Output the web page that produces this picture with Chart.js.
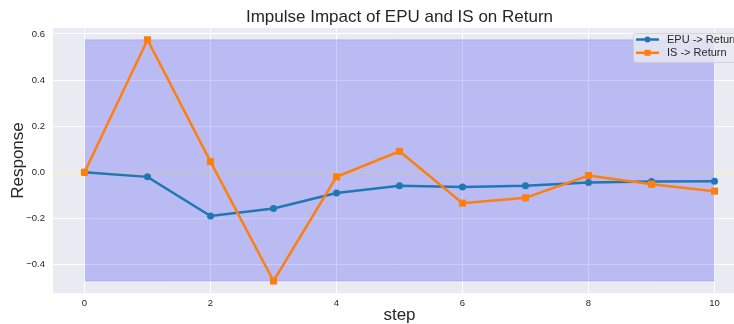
<!DOCTYPE html>
<html>
<head>
<meta charset="utf-8">
<script src="https://cdn.jsdelivr.net/npm/chart.js@4"></script>
<style>
  html, body { margin: 0; padding: 0; background: #fff; overflow: hidden; width: 734px; height: 324px; }
  #wrap { width: 796px; height: 324px; }
</style>
</head>
<body>
<div id="wrap"><canvas id="chart" width="796" height="324"></canvas></div>
<script>
// Impulse responses of Return to EPU and IS shocks.
const steps = [0, 1, 2, 3, 4, 5, 6, 7, 8, 9, 10];
const epuReturn = [0.0, -0.02, -0.19, -0.157, -0.09, -0.059, -0.064, -0.059, -0.045, -0.04, -0.039];
const isReturn = [0.0, 0.575, 0.046, -0.472, -0.02, 0.091, -0.134, -0.111, -0.014, -0.052, -0.082];
const xTicks = [0, 2, 4, 6, 8, 10];
const yTicks = [-0.4, -0.2, 0.0, 0.2, 0.4, 0.6];
const seriesNames = ["EPU -> Return", "IS -> Return"];

const FONT = "'Liberation Sans', Arial, sans-serif";
const $ = (id) => document.getElementById(id);

const bandTop = Math.max(...isReturn);
const bandBottom = Math.min(...isReturn);
const pts = (ys) => steps.map((s, i) => ({ x: s, y: ys[i] }));

const plotBg = {
  id: "plotBg",
  beforeDraw(c) {
    const a = c.chartArea, ctx = c.ctx;
    ctx.save();
    ctx.fillStyle = "#eaeaf2";
    ctx.fillRect(a.left, a.top, a.right - a.left, a.bottom - a.top);
    ctx.restore();
  },
};

const zeroLine = {
  id: "zeroLine",
  beforeDatasetsDraw(c) {
    const a = c.chartArea, ctx = c.ctx;
    const y = Math.round(c.scales.y.getPixelForValue(0)) + 0.5;
    ctx.save();
    ctx.strokeStyle = "rgba(255,240,120,0.7)";
    ctx.lineWidth = 1;
    ctx.beginPath();
    ctx.moveTo(a.left, y);
    ctx.lineTo(a.right, y);
    ctx.stroke();
    ctx.restore();
  },
};

const titles = {
  id: "titles",
  afterDraw(c) {
    const ctx = c.ctx, a = c.chartArea;
    ctx.save();
    ctx.fillStyle = "#262626";
    ctx.textAlign = "center";
    ctx.textBaseline = "middle";
    ctx.font = "17px " + FONT;
    ctx.fillText("Impulse Impact of EPU and IS on Return", (a.left + a.right) / 2, 17);
    ctx.restore();
  },
};

const legendBox = {
  id: "legendBox",
  afterDraw(c) {
    const ctx = c.ctx;
    const x = 633, y = 33, w = 120, h = 29;
    ctx.save();
    ctx.fillStyle = "rgba(234,234,242,0.8)";
    ctx.strokeStyle = "rgba(204,204,204,0.8)";
    ctx.lineWidth = 1;
    ctx.beginPath();
    ctx.roundRect(x + 0.5, y + 0.5, w, h, 2);
    ctx.fill();
    ctx.stroke();
    const colors = ["#1f77b4", "#ff7f0e"];
    seriesNames.forEach((name, i) => {
      const ly = y + 6.5 + i * 13.3;
      ctx.strokeStyle = colors[i];
      ctx.fillStyle = colors[i];
      ctx.lineWidth = 2.5;
      ctx.beginPath();
      ctx.moveTo(x + 3, ly);
      ctx.lineTo(x + 26, ly);
      ctx.stroke();
      ctx.beginPath();
      if (i === 0) ctx.arc(x + 14.5, ly, 3, 0, Math.PI * 2);
      else ctx.rect(x + 11.5, ly - 3, 6, 6);
      ctx.fill();
      ctx.fillStyle = "#262626";
      ctx.font = "11px " + FONT;
      ctx.textAlign = "left";
      ctx.textBaseline = "middle";
      ctx.fillText(name, x + 34, ly + 0.5);
    });
    ctx.restore();
  },
};

new Chart($("chart").getContext("2d"), {
  type: "scatter",
  data: {
    datasets: [
      {
        label: "band top",
        data: [{ x: steps[0], y: bandTop }, { x: steps[steps.length - 1], y: bandTop }],
        showLine: true,
        pointRadius: 0,
        borderColor: "rgba(0,0,255,0.12)",
        borderWidth: 1,
        backgroundColor: "rgba(0,0,255,0.2)",
        fill: "+1",
        order: 3,
      },
      {
        label: "band bottom",
        data: [{ x: steps[0], y: bandBottom }, { x: steps[steps.length - 1], y: bandBottom }],
        showLine: true,
        pointRadius: 0,
        borderColor: "rgba(0,0,255,0.12)",
        borderWidth: 1,
        fill: false,
        order: 3,
      },
      {
        label: seriesNames[0],
        data: pts(epuReturn),
        showLine: true,
        borderColor: "#1f77b4",
        backgroundColor: "#1f77b4",
        borderWidth: 2.5,
        pointStyle: "circle",
        pointRadius: 3.5,
        pointBorderWidth: 0,
        order: 2,
      },
      {
        label: seriesNames[1],
        data: pts(isReturn),
        showLine: true,
        borderColor: "#ff7f0e",
        backgroundColor: "#ff7f0e",
        borderWidth: 2.5,
        pointStyle: "rect",
        pointRadius: 5,
        pointBorderWidth: 0,
        order: 1,
      },
    ],
  },
  options: {
    responsive: false,
    devicePixelRatio: 1,
    animation: false,
    layout: { padding: { top: 28, right: 50, left: 0, bottom: 0 } },
    plugins: { legend: { display: false }, title: { display: false }, tooltip: { enabled: false } },
    scales: {
      x: {
        type: "linear",
        min: -0.5,
        max: 10.5,
        afterBuildTicks: (s) => { s.ticks = xTicks.map((v) => ({ value: v })); },
        afterFit: (s) => { s.height = 31; },
        grid: { color: "#ffffff", lineWidth: 1, drawTicks: false },
        border: { display: false },
        ticks: { color: "#262626", font: { family: FONT, size: 9.5 }, padding: 5, maxRotation: 0 },
        title: { display: true, text: "step", color: "#262626", font: { family: FONT, size: 17 }, padding: { top: 0, bottom: -2 } },
      },
      y: {
        min: -0.524,
        max: 0.626,
        afterBuildTicks: (s) => { s.ticks = yTicks.map((v) => ({ value: v })); },
        afterFit: (s) => { s.width = 53; },
        grid: { color: "#ffffff", lineWidth: 1, drawTicks: false },
        border: { display: false },
        ticks: {
          color: "#262626",
          font: { family: FONT, size: 9.5 },
          padding: 8,
          callback: (v) => v.toFixed(1).replace("-", "\u2212"),
        },
        title: { display: true, text: "Response", color: "#262626", font: { family: FONT, size: 17 }, padding: { top: 8, bottom: 0 } },
      },
    },
  },
  plugins: [plotBg, zeroLine, titles, legendBox],
});
</script>
</body>
</html>
